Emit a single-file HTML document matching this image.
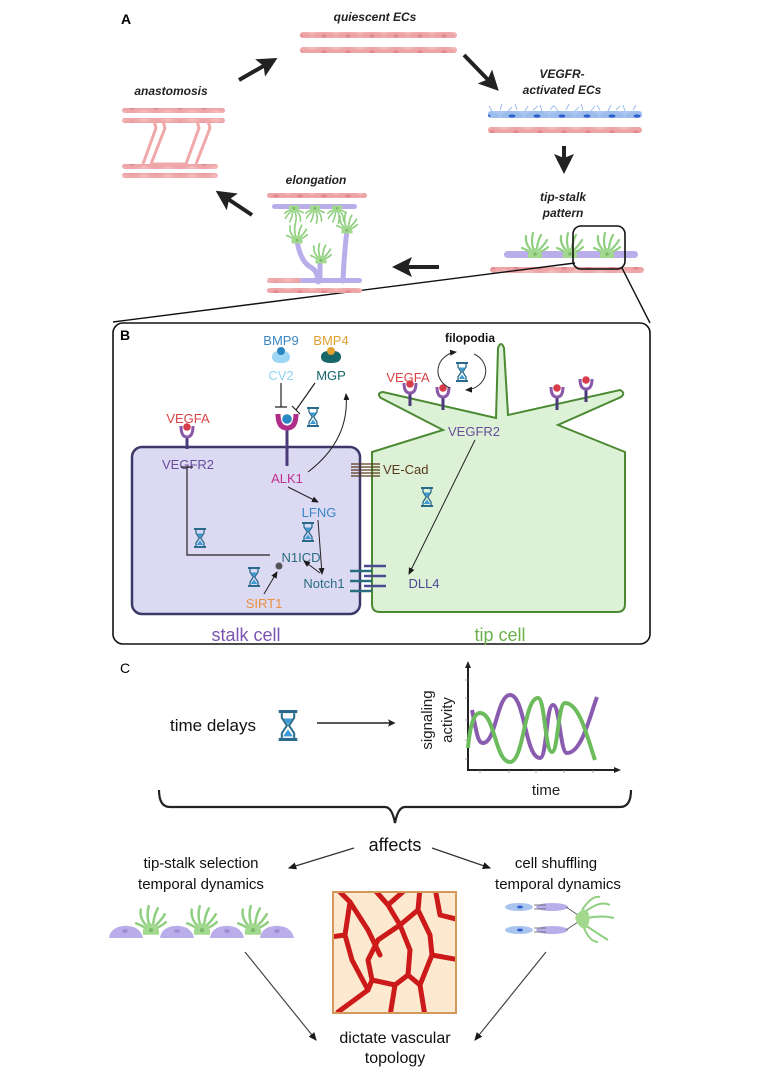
<!DOCTYPE html>
<html><head><meta charset="utf-8"><style>
html,body{margin:0;padding:0;background:#fff}
svg{display:block}
text{font-family:"Liberation Sans",sans-serif}
</style></head><body>
<svg width="763" height="1079" viewBox="0 0 763 1079" xmlns="http://www.w3.org/2000/svg">
<defs>
<marker id="ah" markerWidth="6" markerHeight="6" refX="4" refY="3" orient="auto" markerUnits="strokeWidth"><path d="M0,0.5 L5,3 L0,5.5 L1,3 z" fill="#222"/></marker>
<marker id="ahb" markerWidth="7" markerHeight="7" refX="6" refY="3.5" orient="auto" markerUnits="strokeWidth"><path d="M0,0.5 L7,3.5 L0,6.5 z" fill="#1a1a1a"/></marker>
<pattern id="pk" width="24" height="8" patternUnits="userSpaceOnUse"><rect width="24" height="8" fill="#f3b8b8"/><ellipse cx="12" cy="4" rx="12" ry="4" fill="#eea5a8"/><ellipse cx="12" cy="4" rx="3" ry="1.6" fill="#df8a92"/></pattern>
<pattern id="bl" width="25" height="8" patternUnits="userSpaceOnUse"><rect width="25" height="8" fill="#aac6f0"/><ellipse cx="12" cy="4" rx="12" ry="4" fill="#9cbcee"/><ellipse cx="12" cy="4" rx="3.5" ry="1.6" fill="#2f5fcf"/></pattern>
<symbol id="hg" viewBox="0 0 12 20">
<rect x="0" y="0" width="12" height="2" fill="#2a6a8c"/><rect x="0" y="18" width="12" height="2" fill="#2a6a8c"/>
<path d="M2,2 L2,5 L5.3,10 L2,15 L2,18 M10,2 L10,5 L6.7,10 L10,15 L10,18" stroke="#2a6a8c" stroke-width="1.3" fill="none"/>
<path d="M3,5.5 L9,5.5 L6,9.5 z M2.8,17 L9.2,17 L6,12.5 z" fill="#3a9ad6"/>
</symbol>
<symbol id="gc" viewBox="-14 -20 28 28">
<g stroke="#8fcf80" stroke-width="2.2" fill="none" stroke-linecap="round">
<path d="M-4,-2 Q-10,-8 -9,-16"/><path d="M-2,-4 Q-4,-12 -2,-19"/><path d="M2,-4 Q3,-12 6,-17"/><path d="M4,-2 Q10,-8 12,-12"/><path d="M5,0 Q10,-2 13,-5"/><path d="M-5,0 Q-10,-3 -13,-4"/>
</g>
<path d="M-7,6 Q-8,-3 0,-4 Q8,-3 7,6 z" fill="#a2d98f"/><circle cx="0" cy="2" r="1.8" fill="#7ab86a"/>
</symbol>
</defs>

<!-- PANEL A -->
<text x="121" y="24" font-size="14" font-weight="bold">A</text>
<g font-size="12" font-style="italic" font-weight="bold" text-anchor="middle" fill="#222">
<text x="375" y="21">quiescent ECs</text>
<text x="562" y="78">VEGFR-</text>
<text x="562" y="94">activated ECs</text>
<text x="563" y="201">tip-stalk</text>
<text x="563" y="217">pattern</text>
<text x="171" y="95">anastomosis</text>
<text x="316" y="184">elongation</text>
</g>
<rect x="300" y="32" width="157" height="6" rx="3" fill="url(#pk)"/>
<rect x="300" y="47" width="157" height="6" rx="3" fill="url(#pk)"/>
<g stroke="#222" stroke-width="4" fill="none">
<line x1="239" y1="80" x2="274" y2="60" marker-end="url(#ah)"/>
<line x1="464" y1="55" x2="496" y2="88" marker-end="url(#ah)"/>
<line x1="564" y1="146" x2="564" y2="170" marker-end="url(#ah)"/>
<line x1="439" y1="267" x2="396" y2="267" marker-end="url(#ah)"/>
<line x1="252" y1="215" x2="219" y2="193" marker-end="url(#ah)"/>
</g>
<g stroke="#9cbcee" stroke-width="1" fill="none">
<path d="M492,111 l-3,-5 M500,110 l2,-6 M508,111 l4,-4 M517,110 l-2,-6 M525,111 l3,-5 M533,110 l5,-4 M542,111 l-2,-6 M550,110 l4,-5 M558,111 l-4,-5 M566,110 l3,-6 M575,111 l4,-4 M583,110 l-2,-6 M591,111 l4,-5 M600,110 l-3,-5 M608,111 l3,-6 M616,110 l4,-4 M625,111 l-2,-6 M633,110 l3,-5"/>
</g>
<rect x="488" y="111" width="154" height="7" rx="3" fill="url(#bl)"/>
<rect x="488" y="127" width="154" height="6" rx="3" fill="url(#pk)"/>
<rect x="504" y="251" width="134" height="7" rx="3.5" fill="#baaeea"/>
<use href="#gc" x="521" y="232" width="28" height="28"/>
<use href="#gc" x="556" y="232" width="28" height="28"/>
<use href="#gc" x="593" y="232" width="28" height="28"/>
<rect x="490" y="267" width="154" height="6" rx="3" fill="url(#pk)"/>
<rect x="573" y="226" width="52" height="43" rx="8" fill="none" stroke="#111" stroke-width="1.6"/>
<line x1="575" y1="263" x2="113" y2="322" stroke="#111" stroke-width="1.4"/>
<line x1="622" y1="268" x2="650" y2="323" stroke="#111" stroke-width="1.4"/>
<rect x="122" y="108" width="103" height="5" rx="2.5" fill="url(#pk)"/>
<rect x="122" y="118" width="103" height="5" rx="2.5" fill="url(#pk)"/>
<rect x="122" y="164" width="96" height="5" rx="2.5" fill="url(#pk)"/>
<rect x="122" y="173" width="96" height="5" rx="2.5" fill="url(#pk)"/>
<g stroke="#f0a8aa" stroke-width="3" fill="none" stroke-linejoin="round">
<path d="M154,121 L156,128 L143,164"/>
<path d="M163,121 L165,128 L151,164 L188,164"/>
<path d="M197,121 L199,128 L186,164"/>
<path d="M208,121 L210,128 L196,164"/>
</g>
<rect x="267" y="193" width="100" height="5" rx="2.5" fill="url(#pk)"/>
<rect x="272" y="204" width="85" height="5" rx="2.5" fill="#baaeea"/>
<use href="#gc" x="284" y="200" width="20" height="20" transform="rotate(180 294 212)"/>
<use href="#gc" x="305" y="200" width="20" height="20" transform="rotate(180 315 212)"/>
<use href="#gc" x="327" y="200" width="20" height="20" transform="rotate(180 337 212)"/>
<g stroke="#baaeea" stroke-width="5" fill="none" stroke-linecap="round">
<path d="M297,240 Q300,262 312,268 Q318,272 318,282"/>
<path d="M320,260 L320,281"/>
<path d="M347,230 Q344,255 343,281"/>
</g>
<use href="#gc" x="286" y="223" width="22" height="22"/>
<use href="#gc" x="310" y="243" width="22" height="22"/>
<use href="#gc" x="336" y="213" width="22" height="22"/>
<rect x="267" y="278" width="35" height="5" rx="2.5" fill="url(#pk)"/>
<rect x="300" y="278" width="62" height="5" rx="2.5" fill="#baaeea"/>
<rect x="267" y="288" width="95" height="5" rx="2.5" fill="url(#pk)"/>

<!-- PANEL B -->
<rect x="113" y="323" width="537" height="321" rx="10" fill="#fff" stroke="#111" stroke-width="1.6"/>
<text x="120" y="340" font-size="14" font-weight="bold">B</text>
<rect x="132" y="447" width="228" height="167" rx="10" fill="#dcd9f3" stroke="#3c3868" stroke-width="2.5"/>
<path d="M372,452 L443,430 L381,398 Q376,393 383,392 L496,418 L498,348 Q501,340 504,348 L508,415 L620,390 Q626,393 621,397 L558,425 L625,452 L625,604 Q625,612 617,612 L380,612 Q372,612 372,604 z" fill="#dcf1d6" stroke="#4b8a32" stroke-width="2"/>
<g>
<line x1="187" y1="437" x2="187" y2="449" stroke="#4a3a7a" stroke-width="3"/>
<path d="M181,426 Q181,437 187,437 Q193,437 193,426" stroke="#8a58a8" stroke-width="3" fill="none"/>
<circle cx="187" cy="427" r="3.8" fill="#d83c4c"/>
</g>
<g>
<line x1="287" y1="428" x2="287" y2="466" stroke="#4a3a7a" stroke-width="3"/>
<path d="M278,414 Q278,428 287,428 Q296,428 296,414" stroke="#b02e88" stroke-width="5" fill="none"/>
<circle cx="287" cy="419" r="4.8" fill="#2a88c2"/>
</g>
<g id="tr">
<line x1="410" y1="392" x2="410" y2="406" stroke="#4a3a7a" stroke-width="3"/>
<path d="M404,383 Q404,393 410,393 Q416,393 416,383" stroke="#8a58a8" stroke-width="3" fill="none"/>
<circle cx="410" cy="384" r="3.8" fill="#d83c4c"/>
</g>
<use href="#tr" x="33" y="4"/>
<use href="#tr" x="147" y="4"/>
<use href="#tr" x="176" y="-4"/>
<path d="M272,357 Q272,363 281,363 Q290,363 290,357 Q290,352 284,351 Q281,356 278,351 Q272,352 272,357 z" fill="#9cd6f4"/>
<circle cx="281" cy="351" r="4" fill="#2a86c0"/>
<path d="M321,357 Q321,363 331,363 Q341,363 341,357 Q341,352 335,351 Q331,356 327,351 Q321,352 321,357 z" fill="#16666a"/>
<circle cx="331" cy="351" r="4" fill="#e0a030"/>
<g font-size="13" text-anchor="middle">
<text x="281" y="345" fill="#3a86c0">BMP9</text>
<text x="331" y="345" fill="#e0a030">BMP4</text>
<text x="281" y="380" fill="#8fd2f2">CV2</text>
<text x="331" y="380" fill="#16666a">MGP</text>
<text x="188" y="423" fill="#d94444">VEGFA</text>
<text x="188" y="469" fill="#6a4d9a">VEGFR2</text>
<text x="287" y="483" fill="#c0308f">ALK1</text>
<text x="319" y="517" fill="#3a86c8">LFNG</text>
<text x="301" y="562" fill="#2a6c80">N1ICD</text>
<text x="324" y="588" fill="#2a6c80">Notch1</text>
<text x="264" y="608" fill="#ec9040">SIRT1</text>
<text x="424" y="588" fill="#4a4a92">DLL4</text>
<text x="408" y="382" fill="#d94444">VEGFA</text>
<text x="474" y="436" fill="#6a4d9a">VEGFR2</text>
</g>
<text x="383" y="474" font-size="13" fill="#5a3a1e">VE-Cad</text>
<text x="470" y="342" font-size="12" font-weight="bold" text-anchor="middle" fill="#111">filopodia</text>
<text x="246" y="641" font-size="18" text-anchor="middle" fill="#7b55b0">stalk cell</text>
<text x="500" y="641" font-size="18" text-anchor="middle" fill="#6cb04c">tip cell</text>
<use href="#hg" x="306" y="407" width="14" height="20"/>
<use href="#hg" x="455" y="362" width="14" height="20"/>
<use href="#hg" x="193" y="528" width="14" height="20"/>
<use href="#hg" x="301" y="522" width="14" height="20"/>
<use href="#hg" x="247" y="567" width="14" height="20"/>
<use href="#hg" x="420" y="487" width="14" height="20"/>
<g stroke="#222" stroke-width="1.2" fill="none">
<path d="M281,383 L281,407 M275,407 L287,407"/>
<path d="M315,383 L296,410 M292,406 L300,414"/>
<path d="M270,555 L187,555 L187,467 M181,467 L193,467"/>
</g>
<g stroke="#222" stroke-width="1" fill="none" marker-end="url(#ahb)">
<path d="M288,487 L318,502"/>
<path d="M318,520 L322,574"/>
<path d="M320,573 L304,561"/>
<path d="M264,594 L277,572"/>
<path d="M475,440 L409,574"/>
<path d="M308,472 Q350,440 346,394"/>
</g>
<circle cx="279" cy="566" r="3.5" fill="#555"/>
<path d="M450,388 A21,19 0 0 1 456,352" stroke="#333" stroke-width="1" fill="none" marker-end="url(#ahb)"/>
<path d="M474,354 A21,19 0 0 1 466,390" stroke="#333" stroke-width="1" fill="none" marker-end="url(#ahb)"/>
<g stroke="#2a6c80" stroke-width="2.5">
<line x1="350" y1="571" x2="372" y2="571"/><line x1="350" y1="581" x2="372" y2="581"/><line x1="350" y1="591" x2="372" y2="591"/>
</g>
<g stroke="#4a4a92" stroke-width="2.5">
<line x1="364" y1="566" x2="386" y2="566"/><line x1="364" y1="576" x2="386" y2="576"/><line x1="364" y1="586" x2="386" y2="586"/>
</g>
<g stroke="#5a3a1e" stroke-width="1.3">
<line x1="351" y1="464" x2="380" y2="464"/><line x1="351" y1="467" x2="380" y2="467"/><line x1="351" y1="470" x2="380" y2="470"/><line x1="351" y1="473" x2="380" y2="473"/><line x1="351" y1="476" x2="380" y2="476"/>
</g>

<!-- PANEL C -->
<text x="120" y="673" font-size="14">C</text>
<text x="213" y="731" font-size="17" text-anchor="middle" fill="#111">time delays</text>
<use href="#hg" x="277" y="710" width="22" height="31"/>
<line x1="317" y1="723" x2="394" y2="723" stroke="#222" stroke-width="1.5" marker-end="url(#ah)"/>
<g stroke="#222" stroke-width="2" fill="none">
<path d="M468,666 L468,770 L616,770"/>
</g>
<path d="M468,661 L465,668 L471,668 z M621,770 L614,767 L614,773 z" fill="#222"/>
<g stroke="#888" stroke-width="0.8"><path d="M465,680 h3 M465,698 h3 M465,720 h3 M465,740 h3 M465,759 h3 M480,770 v3 M509,770 v3 M536,770 v3 M564,770 v3 M593,770 v3"/></g>
<text transform="translate(432,720) rotate(-90)" font-size="15" text-anchor="middle" fill="#222">signaling</text>
<text transform="translate(452,720) rotate(-90)" font-size="15" text-anchor="middle" fill="#222">activity</text>
<path d="M472,710 C477,735 478,743 483,743 C496,743 497,695 510,695 C525,695 525,758 540,758 C547,758 546,705 553,705 C560,705 560,753 567,753 C582,753 590,715 597,697" stroke="#8a5cb0" stroke-width="4" fill="none"/>
<path d="M468,748 C470,725 474,713 480,713 C495,713 495,762 510,762 C524,762 524,698 538,698 C545,698 545,752 552,752 C558,752 558,703 565,703 C580,703 588,740 595,760" stroke="#6cbb5c" stroke-width="4" fill="none"/>
<text x="546" y="795" font-size="15" text-anchor="middle" fill="#222">time</text>
<path d="M159,790 Q159,807 170,807 L385,807 Q392,807 395,823 Q398,807 405,807 L620,807 Q631,807 631,790" stroke="#222" stroke-width="2.2" fill="none"/>
<text x="395" y="851" font-size="18" text-anchor="middle" fill="#111">affects</text>
<line x1="354" y1="848" x2="289" y2="868" stroke="#333" stroke-width="1.2" marker-end="url(#ahb)"/>
<line x1="432" y1="848" x2="490" y2="868" stroke="#333" stroke-width="1.2" marker-end="url(#ahb)"/>
<g font-size="15" text-anchor="middle" fill="#111">
<text x="201" y="868">tip-stalk selection</text>
<text x="201" y="889">temporal dynamics</text>
<text x="556" y="868">cell shuffling</text>
<text x="558" y="889">temporal dynamics</text>
<text x="395" y="1043" font-size="16">dictate vascular</text>
<text x="395" y="1063" font-size="16">topology</text>
</g>
<g fill="#baaeea">
<path d="M109,938 Q110,930 118,927 Q127,924 136,928 Q142,932 143,938 z"/>
<path d="M160,938 Q161,930 169,927 Q178,924 187,928 Q193,932 194,938 z"/>
<path d="M210,938 Q211,930 219,927 Q228,924 237,928 Q243,932 244,938 z"/>
<path d="M260,938 Q261,930 269,927 Q278,924 287,928 Q293,932 294,938 z"/>
</g>
<g fill="#9d8fd6"><ellipse cx="125" cy="931" rx="3" ry="2"/><ellipse cx="177" cy="931" rx="3" ry="2"/><ellipse cx="227" cy="931" rx="3" ry="2"/><ellipse cx="277" cy="931" rx="3" ry="2"/></g>
<use href="#gc" x="135" y="905" width="32" height="32"/>
<use href="#gc" x="186" y="905" width="32" height="32"/>
<use href="#gc" x="237" y="905" width="32" height="32"/>
<ellipse cx="519" cy="907" rx="14" ry="4" fill="#a9c4ee"/><ellipse cx="520" cy="907" rx="3" ry="1.5" fill="#2f5fcf"/>
<ellipse cx="519" cy="930" rx="14" ry="4" fill="#a9c4ee"/><ellipse cx="520" cy="930" rx="3" ry="1.5" fill="#2f5fcf"/>
<ellipse cx="552" cy="907" rx="16" ry="4" fill="#baaeea"/><ellipse cx="552" cy="930" rx="16" ry="4" fill="#baaeea"/>
<g stroke="#555" stroke-width="0.8"><path d="M534,905 h12 M534,909 h12 M534,928 h12 M534,932 h12 M566,907 l12,8 M566,930 l12,-8"/></g>
<g stroke="#8fcf80" stroke-width="2" fill="none"><path d="M585,912 Q600,900 610,905 M587,918 Q602,915 614,918 M585,925 Q600,935 608,940 M582,910 Q592,895 600,897 M584,928 Q590,942 598,942"/></g>
<path d="M575,918 Q580,908 587,910 Q592,918 587,928 Q580,931 575,918 z" fill="#a2d98f"/>
<rect x="333" y="892" width="123" height="121" fill="#fde9cf" stroke="#d4995a" stroke-width="2"/>
<svg x="334" y="893" width="121" height="119" viewBox="334 893 121 119">
<g stroke="#cc1a1a" stroke-width="5" fill="none" stroke-linejoin="round" stroke-linecap="round">
<path d="M338,890 L350,902 L345,935 L352,960 L368,990 L338,1012"/>
<path d="M330,937 L345,935"/>
<path d="M350,902 L368,930 L380,955"/>
<path d="M373,888 L388,905 L405,890"/>
<path d="M388,905 L400,925 L378,940 L368,960 L372,980 L368,990"/>
<path d="M420,888 L418,910 L430,935 L432,955 L420,985 L425,1016"/>
<path d="M418,910 L400,925"/>
<path d="M435,888 L440,915 L460,920"/>
<path d="M432,955 L460,960"/>
<path d="M372,980 L395,985 L408,975 L420,985"/>
<path d="M400,925 L410,950 L408,975"/>
<path d="M395,985 L390,1016"/>
</g>
</svg>
<line x1="245" y1="952" x2="316" y2="1040" stroke="#444" stroke-width="1.2" marker-end="url(#ahb)"/>
<line x1="546" y1="952" x2="475" y2="1040" stroke="#444" stroke-width="1.2" marker-end="url(#ahb)"/>
</svg>
</body></html>
